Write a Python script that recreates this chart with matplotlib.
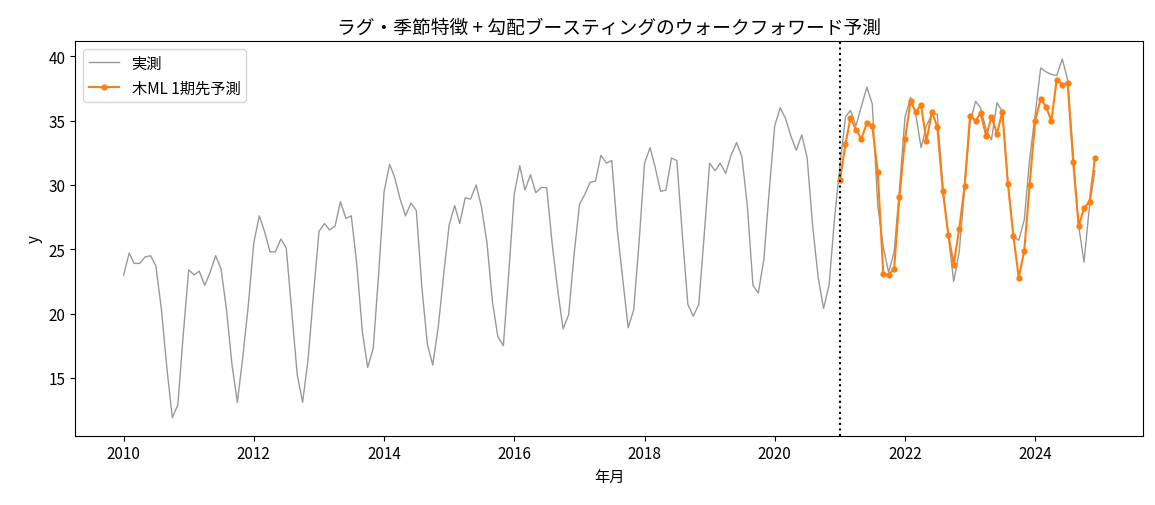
import numpy as np
import pandas as pd
import matplotlib
matplotlib.use("Agg")
import matplotlib.pyplot as plt

plt.rcParams['font.family'] = ['Noto Sans CJK JP', 'DejaVu Sans']
plt.rcParams['font.size'] = 11

dates = pd.date_range("2010-01-01", "2024-12-01", freq="MS")
actual = [
    23.0, 24.7, 23.9, 23.9, 24.4, 24.5, 23.7, 20.3, 15.7, 11.9, 12.9, 18.3,
    23.4, 23.0, 23.3, 22.2, 23.2, 24.5, 23.5, 20.3, 16.0, 13.1, 16.7, 20.6,
    25.5, 27.6, 26.4, 24.8, 24.8, 25.8, 25.1, 20.1, 15.2, 13.1, 16.5, 21.5,
    26.4, 27.0, 26.5, 26.8, 28.7, 27.4, 27.6, 23.8, 18.6, 15.8, 17.3, 23.0,
    29.5, 31.6, 30.6, 28.9, 27.6, 28.6, 28.0, 22.0, 17.6, 16.0, 19.0, 23.0,
    26.9, 28.4, 27.0, 29.0, 28.9, 30.0, 28.3, 25.5, 20.9, 18.2, 17.5, 23.1,
    29.3, 31.5, 29.6, 30.8, 29.4, 29.8, 29.8, 25.4, 21.8, 18.8, 19.9, 24.5,
    28.5, 29.3, 30.2, 30.3, 32.3, 31.7, 31.9, 26.5, 22.6, 18.9, 20.3, 25.5,
    31.7, 32.9, 31.4, 29.5, 29.6, 32.1, 31.9, 26.1, 20.7, 19.8, 20.7, 26.0,
    31.7, 31.1, 31.7, 30.9, 32.3, 33.3, 32.2, 28.3, 22.2, 21.6, 24.2, 29.5,
    34.6, 36.0, 35.2, 33.8, 32.7, 33.9, 32.1, 26.8, 22.8, 20.4, 22.2, 27.3,
    31.5, 35.3, 35.8, 34.6, 36.1, 37.6, 36.3, 28.4, 25.2, 23.2, 24.8, 29.7,
    35.3, 36.8, 35.6, 32.9, 34.6, 35.5, 35.5, 29.9, 26.0, 22.5, 24.8, 29.7,
    34.9, 36.5, 36.0, 34.3, 33.5, 36.4, 35.7, 30.2, 26.0, 25.7, 27.3, 32.0,
    35.5, 39.1, 38.8, 38.6, 38.5, 39.8, 38.2, 32.5, 26.8, 24.0, 28.4, 31.1,
]
pred_dates = pd.date_range("2021-01-01", "2024-12-01", freq="MS")
pred = [
    30.4, 33.2, 35.2, 34.3, 33.6, 34.8, 34.6, 31.0, 23.1, 23.0, 23.5, 29.1,
    33.6, 36.5, 35.7, 36.2, 33.4, 35.7, 34.5, 29.5, 26.1, 23.8, 26.6, 29.9,
    35.4, 35.0, 35.6, 33.8, 35.3, 34.0, 35.7, 30.1, 26.0, 22.8, 24.9, 30.0,
    35.0, 36.7, 36.1, 35.0, 38.2, 37.8, 37.9, 31.8, 26.8, 28.2, 28.7, 32.1,
]
split_date = pd.Timestamp("2021-01-01")

fig, ax = plt.subplots(figsize=(11.55, 5.06), dpi=100)
ax.plot(dates, actual, color='gray', lw=1.0, alpha=0.8, label='実測')
ax.plot(pred_dates, pred, color='#ff7f0e', lw=1.5, marker='o', markersize=3.5, label='木ML 1期先予測')
ax.axvline(split_date, color='black', linestyle=':', lw=1.5)
ax.set_title('ラグ・季節特徴 + 勾配ブースティングのウォークフォワード予測', fontsize=13.5)
ax.set_xlabel('年月')
ax.set_ylabel('y')
ax.legend(loc='upper left')
fig.subplots_adjust(left=0.065, right=0.99, top=0.917, bottom=0.137)
fig.savefig('out.png', dpi=100)
